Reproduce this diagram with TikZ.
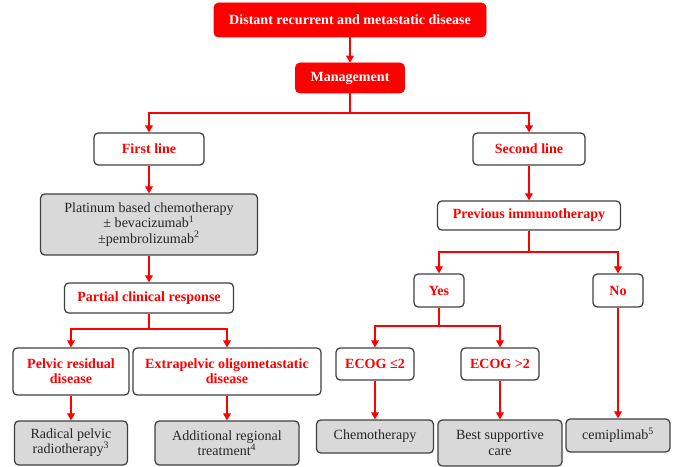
\documentclass[tikz,border=0pt]{standalone}
\usepackage{fontspec}
\setmainfont{Liberation Serif}
\usepackage{tikz}
\usetikzlibrary{arrows.meta, positioning}
\definecolor{boxred}{HTML}{FF0000}
\definecolor{boxgray}{HTML}{D9D9D9}
\definecolor{edgegray}{HTML}{404040}
\tikzset{
    head/.style={rectangle, rounded corners=3pt, draw=boxred, fill=boxred, text=white, align=center, font=\fontsize{10}{10.8}\selectfont\bfseries},
    question/.style={rectangle, rounded corners=3pt, draw=edgegray, line width=0.9pt, fill=white, text=boxred, align=center, font=\fontsize{10}{10.8}\selectfont\bfseries},
    treat/.style={rectangle, rounded corners=3pt, draw=edgegray, line width=0.9pt, fill=boxgray, text=black!85, align=center, font=\fontsize{10}{10.8}\selectfont},
    link/.style={draw=boxred, line width=0.9pt},
    arrow/.style={-{Triangle[length=5pt, width=5.5pt]}, draw=boxred, line width=0.9pt}
}

\begin{document}
\begin{tikzpicture}
    \useasboundingbox (0,0) rectangle (16.925,-11.675);

    % Top
    \node[head, minimum width=6.8cm, minimum height=0.85cm] (top) at (8.75,-0.5) {Distant recurrent and metastatic disease};
    \node[head, minimum width=2.725cm, minimum height=0.75cm] (mgmt) at (8.75,-1.95) {Management};

    % First line branch
    \node[question, minimum width=2.75cm, minimum height=0.8cm] (first) at (3.725,-3.725) {First line};
    \node[treat, minimum width=5.425cm, minimum height=1.525cm] (platinum) at (3.725,-5.6125) {Platinum based chemotherapy\\± bevacizumab\textsuperscript{1}\\±pembrolizumab\textsuperscript{2}};
    \node[question, minimum width=4.225cm, minimum height=0.75cm] (partial) at (3.725,-7.45) {Partial clinical response};
    \node[question, minimum width=2.9cm, minimum height=1.175cm] (pelvic) at (1.775,-9.2875) {Pelvic residual\\disease};
    \node[question, minimum width=4.7cm, minimum height=1.175cm] (extra) at (5.675,-9.2875) {Extrapelvic oligometastatic\\disease};
    \node[treat, minimum width=2.825cm, minimum height=1.1cm] (radical) at (1.775,-11.075) {Radical pelvic\\radiotherapy\textsuperscript{3}};
    \node[treat, minimum width=3.6cm, minimum height=1.1cm] (regional) at (5.675,-11.075) {Additional regional\\treatment\textsuperscript{4}};

    % Second line branch
    \node[question, minimum width=2.8cm, minimum height=0.8cm] (second) at (13.225,-3.725) {Second line};
    \node[question, minimum width=4.575cm, minimum height=0.725cm] (previous) at (13.225,-5.3875) {Previous immunotherapy};
    \node[question, minimum width=1.25cm, minimum height=0.825cm] (yes) at (10.975,-7.2625) {Yes};
    \node[question, minimum width=1.25cm, minimum height=0.825cm] (no) at (15.45,-7.2625) {No};
    \node[question, minimum width=1.95cm, minimum height=0.8cm] (ecoglow) at (9.375,-9.1) {ECOG ≤2};
    \node[question, minimum width=1.95cm, minimum height=0.8cm] (ecoghigh) at (12.5,-9.1) {ECOG >2};
    \node[treat, minimum width=2.925cm, minimum height=0.825cm] (chemo) at (9.375,-10.9125) {Chemotherapy};
    \node[treat, minimum width=3.1cm, minimum height=1.15cm] (bsc) at (12.5,-11.075) {Best supportive\\care};
    \node[treat, minimum width=2.6cm, minimum height=0.825cm] (cemi) at (15.45,-10.8875) {cemiplimab\textsuperscript{5}};

    % Split points
    \coordinate (s1) at (8.75,-2.825);
    \coordinate (s2) at (3.725,-8.225);
    \coordinate (s3) at (13.225,-6.3);
    \coordinate (s4) at (10.975,-8.15);

    % Connectors
    \draw[arrow] (top) -- (mgmt);
    \draw[link] (mgmt) -- (s1);
    \draw[arrow] (s1) -| (first);
    \draw[arrow] (s1) -| (second);
    \draw[arrow] (first) -- (platinum);
    \draw[arrow] (platinum) -- (partial);
    \draw[link] (partial) -- (s2);
    \draw[arrow] (s2) -| (pelvic);
    \draw[arrow] (s2) -| (extra);
    \draw[arrow] (pelvic) -- (radical);
    \draw[arrow] (extra) -- (regional);
    \draw[arrow] (second) -- (previous);
    \draw[link] (previous) -- (s3);
    \draw[arrow] (s3) -| (yes);
    \draw[arrow] (s3) -| (no);
    \draw[link] (yes) -- (s4);
    \draw[arrow] (s4) -| (ecoglow);
    \draw[arrow] (s4) -| (ecoghigh);
    \draw[arrow] (ecoglow) -- (chemo);
    \draw[arrow] (ecoghigh) -- (bsc);
    \draw[arrow] (no) -- (cemi);
\end{tikzpicture}
\end{document}
